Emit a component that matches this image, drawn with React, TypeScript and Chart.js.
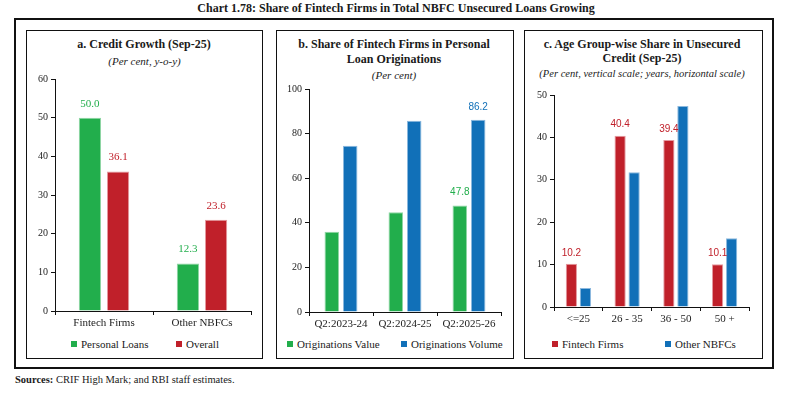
import React, { useEffect, useRef } from "react";
import { Chart, registerables } from "chart.js";

Chart.register(...registerables);

// ---------- DATA ----------
const creditCategories = ["Fintech Firms", "Other NBFCs"];
const personalLoansGrowth = [50.0, 12.3];
const overallGrowth = [36.1, 23.6];

const originationQuarters = ["Q2:2023-24", "Q2:2024-25", "Q2:2025-26"];
const originationsValue = [36.0, 44.7, 47.8];
const originationsVolume = [74.6, 85.8, 86.2];

const ageGroups = ["<=25", "26 - 35", "36 - 50", "50 +"];
const fintechShare = [10.2, 40.4, 39.4, 10.1];
const otherNbfcShare = [4.5, 31.8, 47.4, 16.2];

const creditTicks = { max: 60, step: 10 };
const originationTicks = { max: 100, step: 20 };
const ageTicks = { max: 50, step: 10 };

// ---------- STYLE ----------
const SERIF = '"Liberation Serif", "Times New Roman", serif';
const SANS = '"Liberation Sans", Arial, sans-serif';
const GREEN = "#22ae4c";
const RED = "#c0202a";
const BLUE = "#1170b8";
const GREEN_EDGE = "#8fd6a4";
const RED_EDGE = "#e49aa0";
const BLUE_EDGE = "#8bb8de";

const valueLabelPlugin = {
  id: "valueLabels",
  afterDatasetsDraw(chart: any, _args: any, opts: any) {
    const ctx = chart.ctx;
    chart.data.datasets.forEach((ds: any, i: number) => {
      const flags: boolean[] | undefined = ds.labelFlags;
      if (!flags) return;
      const meta = chart.getDatasetMeta(i);
      meta.data.forEach((el: any, j: number) => {
        if (!flags[j]) return;
        const v = ds.data[j] as number;
        ctx.save();
        ctx.font = opts.font;
        ctx.fillStyle = ds.labelColor;
        ctx.textAlign = "center";
        ctx.textBaseline = "middle";
        ctx.fillText(v.toFixed(1), el.x, el.y - opts.offset);
        ctx.restore();
      });
    });
  },
};

type PanelChartProps = {
  left: number;
  top: number;
  width: number;
  height: number;
  yW: number;
  xH: number;
  padTop: number;
  padRight: number;
  labels: string[];
  datasets: any[];
  max: number;
  step: number;
  labelFont: string;
  labelOffset: number;
};

function PanelChart(p: PanelChartProps) {
  const ref = useRef<HTMLCanvasElement | null>(null);
  useEffect(() => {
    if (!ref.current) return;
    const chart = new Chart(ref.current, {
      type: "bar",
      data: { labels: p.labels, datasets: p.datasets },
      plugins: [valueLabelPlugin as any],
      options: {
        responsive: false,
        animation: false,
        devicePixelRatio: 1,
        layout: { padding: { top: p.padTop, right: p.padRight, left: 0, bottom: 0 } },
        plugins: {
          legend: { display: false },
          tooltip: { enabled: false },
          title: { display: false },
          valueLabels: { font: p.labelFont, offset: p.labelOffset },
        } as any,
        scales: {
          x: {
            type: "category",
            offset: true,
            grid: {
              display: true,
              drawOnChartArea: false,
              drawTicks: true,
              tickLength: 4,
              offset: true,
              color: "#111",
              lineWidth: 1,
            },
            border: { display: true, color: "#111", width: 1 },
            ticks: {
              color: "#222",
              font: { family: SERIF, size: 11 },
              padding: 2,
              maxRotation: 0,
              autoSkip: false,
            },
            afterFit: (s: any) => {
              s.height = p.xH;
            },
          },
          y: {
            min: 0,
            max: p.max,
            ticks: {
              stepSize: p.step,
              color: "#222",
              font: { family: SERIF, size: 10 },
              padding: 3,
            },
            grid: {
              display: true,
              drawOnChartArea: false,
              drawTicks: true,
              tickLength: 4,
              color: "#111",
              lineWidth: 1,
            },
            border: { display: true, color: "#111", width: 1 },
            afterFit: (s: any) => {
              s.width = p.yW;
            },
          },
        } as any,
      },
    });
    return () => chart.destroy();
  }, []);
  return (
    <canvas
      ref={ref}
      width={p.width}
      height={p.height}
      style={{ position: "absolute", left: p.left, top: p.top, width: p.width, height: p.height }}
    />
  );
}

function T(props: {
  x: number;
  y: number;
  size: number;
  bold?: boolean;
  italic?: boolean;
  children: React.ReactNode;
  align?: "center" | "left";
  family?: string;
}) {
  const center = props.align !== "left";
  return (
    <div
      style={{
        position: "absolute",
        left: props.x,
        top: props.y,
        transform: center ? "translate(-50%, -50%)" : "translate(0, -50%)",
        whiteSpace: "nowrap",
        fontFamily: props.family || SERIF,
        fontSize: props.size,
        fontWeight: props.bold ? "bold" : "normal",
        fontStyle: props.italic ? "italic" : "normal",
        color: "#1a1a1a",
        lineHeight: 1,
      }}
    >
      {props.children}
    </div>
  );
}

function LegendItem(props: { x: number; y: number; color: string; text: string }) {
  return (
    <>
      <div
        style={{
          position: "absolute",
          left: props.x,
          top: props.y - 3,
          width: 6,
          height: 6,
          background: props.color,
        }}
      />
      <T x={props.x + 10} y={props.y} size={11} align="left">
        {props.text}
      </T>
    </>
  );
}

function Box(props: { left: number; top: number; right: number; bottom: number; w: number }) {
  return (
    <div
      style={{
        position: "absolute",
        left: props.left,
        top: props.top,
        width: props.right - props.left + 1,
        height: props.bottom - props.top + 1,
        border: `${props.w}px solid #111`,
        boxSizing: "border-box",
      }}
    />
  );
}

export default function App() {
  const dsA = [
    {
      label: "Personal Loans",
      data: personalLoansGrowth,
      backgroundColor: GREEN,
      borderColor: GREEN_EDGE,
      borderWidth: 1,
      barPercentage: 0.79,
      categoryPercentage: 0.575,
      labelFlags: [true, true],
      labelColor: GREEN,
    },
    {
      label: "Overall",
      data: overallGrowth,
      backgroundColor: RED,
      borderColor: RED_EDGE,
      borderWidth: 1,
      barPercentage: 0.79,
      categoryPercentage: 0.575,
      labelFlags: [true, true],
      labelColor: RED,
    },
  ];
  const dsB = [
    {
      label: "Originations Value",
      data: originationsValue,
      backgroundColor: GREEN,
      borderColor: GREEN_EDGE,
      borderWidth: 1,
      barPercentage: 0.79,
      categoryPercentage: 0.575,
      labelFlags: [false, false, true],
      labelColor: GREEN,
    },
    {
      label: "Originations Volume",
      data: originationsVolume,
      backgroundColor: BLUE,
      borderColor: BLUE_EDGE,
      borderWidth: 1,
      barPercentage: 0.79,
      categoryPercentage: 0.575,
      labelFlags: [false, false, true],
      labelColor: BLUE,
    },
  ];
  const dsC = [
    {
      label: "Fintech Firms",
      data: fintechShare,
      backgroundColor: RED,
      borderColor: RED_EDGE,
      borderWidth: 1,
      barPercentage: 0.8,
      categoryPercentage: 0.575,
      labelFlags: [true, true, true, true],
      labelColor: RED,
    },
    {
      label: "Other NBFCs",
      data: otherNbfcShare,
      backgroundColor: BLUE,
      borderColor: BLUE_EDGE,
      borderWidth: 1,
      barPercentage: 0.8,
      categoryPercentage: 0.575,
      labelFlags: [false, false, false, false],
      labelColor: BLUE,
    },
  ];

  return (
    <div
      style={{
        position: "absolute",
        left: 0,
        top: 0,
        width: 790,
        height: 399,
        background: "#fff",
        overflow: "hidden",
      }}
    >
      <T x={396} y={8} size={12} bold>
        Chart 1.78: Share of Fintech Firms in Total NBFC Unsecured Loans Growing
      </T>
      <Box left={14} top={18} right={773} bottom={368} w={2} />
      <Box left={26} top={30} right={262} bottom={358} w={1} />
      <Box left={276} top={30} right={513} bottom={358} w={1} />
      <Box left={524} top={30} right={762} bottom={358} w={1} />

      {/* Panel a */}
      <T x={144} y={44} size={12} bold>
        a. Credit Growth (Sep-25)
      </T>
      <T x={144.5} y={61} size={11} italic>
        (Per cent, y-o-y)
      </T>
      <PanelChart
        left={26}
        top={70}
        width={236}
        height={260}
        yW={29}
        xH={19}
        padTop={7}
        padRight={11}
        labels={creditCategories}
        datasets={dsA}
        max={creditTicks.max}
        step={creditTicks.step}
        labelFont={`11px ${SERIF}`}
        labelOffset={14}
      />
      <LegendItem x={71} y={344} color={GREEN} text="Personal Loans" />
      <LegendItem x={176} y={344} color={RED} text="Overall" />

      {/* Panel b */}
      <T x={394} y={44} size={12} bold>
        b. Share of Fintech Firms in Personal
      </T>
      <T x={394} y={59} size={12} bold>
        Loan Originations
      </T>
      <T x={394} y={75} size={11} italic>
        (Per cent)
      </T>
      <PanelChart
        left={276}
        top={80}
        width={237}
        height={251}
        yW={33}
        xH={19}
        padTop={9}
        padRight={12}
        labels={originationQuarters}
        datasets={dsB}
        max={originationTicks.max}
        step={originationTicks.step}
        labelFont={`10px ${SANS}`}
        labelOffset={13}
      />
      <LegendItem x={287} y={344} color={GREEN} text="Originations Value" />
      <LegendItem x={401} y={344} color={BLUE} text="Originations Volume" />

      {/* Panel c */}
      <T x={642} y={44} size={12} bold>
        c. Age Group-wise Share in Unsecured
      </T>
      <T x={642} y={58} size={12} bold>
        Credit (Sep-25)
      </T>
      <T x={642} y={74} size={10.5} italic>
        (Per cent, vertical scale; years, horizontal scale)
      </T>
      <PanelChart
        left={524}
        top={85}
        width={238}
        height={241}
        yW={30}
        xH={19}
        padTop={10}
        padRight={13}
        labels={ageGroups}
        datasets={dsC}
        max={ageTicks.max}
        step={ageTicks.step}
        labelFont={`10px ${SANS}`}
        labelOffset={11}
      />
      <LegendItem x={552} y={344} color={RED} text="Fintech Firms" />
      <LegendItem x={665} y={344} color={BLUE} text="Other NBFCs" />

      {/* Footer */}
      <T x={15} y={380} size={10.5} align="left">
        <span style={{ fontWeight: "bold" }}>Sources:</span> CRIF High Mark; and RBI staff estimates.
      </T>
    </div>
  );
}
